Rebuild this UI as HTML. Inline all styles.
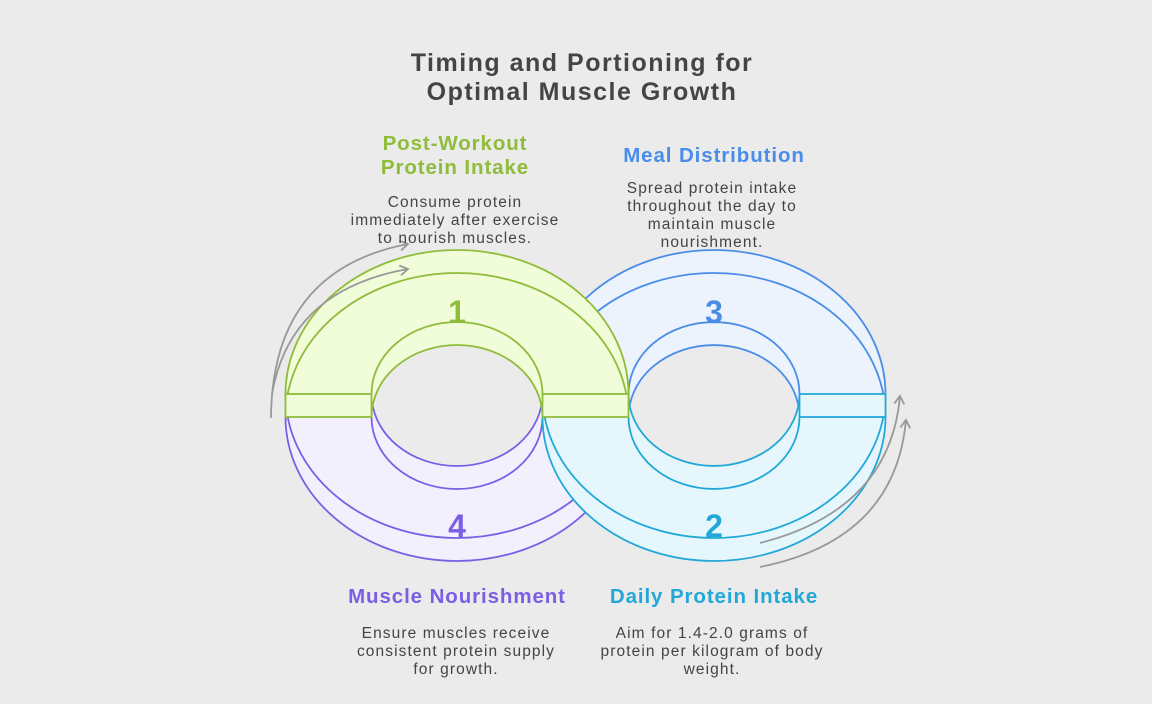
<!DOCTYPE html>
<html><head><meta charset="utf-8"><style>
html,body{margin:0;padding:0;background:#ebebeb;}
svg{display:block;font-family:"Liberation Sans",sans-serif;}
.t{font-weight:bold;font-size:25px;fill:#444;letter-spacing:1.5px;}
.d{font-size:15.5px;fill:#444;letter-spacing:1.1px;}
.h{font-weight:bold;font-size:20.5px;letter-spacing:0.9px;}
.n{font-weight:bold;font-size:32px;}
</style></head><body>
<svg width="1152" height="704" viewBox="0 0 1152 704">
<rect width="1152" height="704" fill="#ebebeb"/>
<defs>
<marker id="ah" markerWidth="12" markerHeight="12" refX="9" refY="6" orient="auto" markerUnits="userSpaceOnUse">
<path d="M1,1 L9,6 L1,11" fill="none" stroke="#999" stroke-width="1.8"/>
</marker>
</defs>

<g fill="#ecf3fd" stroke="#4a8de8" stroke-width="1.8">
<path d="M542.5,417 A171.5,144 0 0 1 885.5,417 L799.5,417 A85.5,72 0 0 0 628.5,417 Z" stroke="none"/>
<path d="M542.5,394 A171.5,144 0 0 1 885.5,394 L799.5,394 A85.5,72 0 0 0 628.5,394 Z" stroke="none"/>
<path d="M542.5,417 A171.5,144 0 0 1 885.5,417" fill="none"/>
<path d="M542.5,394 A171.5,144 0 0 1 885.5,394" fill="none"/>
<path d="M628.5,417 A85.5,72 0 0 1 799.5,417" fill="none"/>
<path d="M628.5,394 A85.5,72 0 0 1 799.5,394" fill="none"/>
</g>
<g fill="#f3f0fd" stroke="#7b5ee6" stroke-width="1.8">
<path d="M285.5,394 A171.5,144 0 0 0 628.5,394 L628.5,417 A171.5,144 0 0 1 285.5,417 Z" stroke="none"/>
<path d="M285.5,394 A171.5,144 0 0 0 628.5,394 L542.5,394 A85.5,72 0 0 1 371.5,394 Z" stroke="none"/>
<path d="M285.5,417 A171.5,144 0 0 0 628.5,417 L542.5,417 A85.5,72 0 0 1 371.5,417 Z" stroke="none"/>
<path d="M285.5,394 A171.5,144 0 0 0 628.5,394" fill="none"/>
<path d="M285.5,417 A171.5,144 0 0 0 628.5,417" fill="none"/>
<path d="M371.5,394 A85.5,72 0 0 0 542.5,394" fill="none"/>
<path d="M371.5,417 A85.5,72 0 0 0 542.5,417" fill="none"/>
</g>
<g fill="#e5f7fd" stroke="#22a8d8" stroke-width="1.8">
<path d="M542.5,394 A171.5,144 0 0 0 885.5,394 L885.5,417 A171.5,144 0 0 1 542.5,417 Z" stroke="none"/>
<path d="M542.5,394 A171.5,144 0 0 0 885.5,394 L799.5,394 A85.5,72 0 0 1 628.5,394 Z" stroke="none"/>
<path d="M542.5,417 A171.5,144 0 0 0 885.5,417 L799.5,417 A85.5,72 0 0 1 628.5,417 Z" stroke="none"/>
<path d="M542.5,394 A171.5,144 0 0 0 885.5,394" fill="none"/>
<path d="M542.5,417 A171.5,144 0 0 0 885.5,417" fill="none"/>
<path d="M628.5,394 A85.5,72 0 0 0 799.5,394" fill="none"/>
<path d="M628.5,417 A85.5,72 0 0 0 799.5,417" fill="none"/>
<rect x="799.5" y="394" width="86" height="23" />
</g>
<g fill="#f1fcd9" stroke="#8fbc3a" stroke-width="1.8">
<path d="M285.5,417 A171.5,144 0 0 1 628.5,417 L542.5,417 A85.5,72 0 0 0 371.5,417 Z" stroke="none"/>
<path d="M285.5,394 A171.5,144 0 0 1 628.5,394 L542.5,394 A85.5,72 0 0 0 371.5,394 Z" stroke="none"/>
<path d="M285.5,417 A171.5,144 0 0 1 628.5,417" fill="none"/>
<path d="M285.5,394 A171.5,144 0 0 1 628.5,394" fill="none"/>
<path d="M371.5,417 A85.5,72 0 0 1 542.5,417" fill="none"/>
<path d="M371.5,394 A85.5,72 0 0 1 542.5,394" fill="none"/>
<rect x="285.5" y="394" width="86" height="23"/>
<rect x="542.5" y="394" width="86" height="23"/>
</g>

<g fill="none" stroke="#999" stroke-width="1.8">
<path d="M271,418 Q272,270 408,244" marker-end="url(#ah)"/>
<path d="M272,394 Q290,290 408,269" marker-end="url(#ah)"/>
<path d="M760,543 Q890,510 900,396" marker-end="url(#ah)"/>
<path d="M760,567 Q895,540 906,420" marker-end="url(#ah)"/>
</g>

<text class="n" x="457" y="323" text-anchor="middle" fill="#8fbc3a">1</text>
<text class="n" x="714" y="323" text-anchor="middle" fill="#4a8de8">3</text>
<text class="n" x="457" y="537" text-anchor="middle" fill="#7b5ee6">4</text>
<text class="n" x="714" y="537" text-anchor="middle" fill="#22a8d8">2</text>

<text class="t" x="582" y="71" text-anchor="middle">Timing and Portioning for</text>
<text class="t" x="582" y="100" text-anchor="middle">Optimal Muscle Growth</text>

<text class="h" x="455" y="150" text-anchor="middle" fill="#8fbc3a">Post-Workout</text>
<text class="h" x="455" y="174" text-anchor="middle" fill="#8fbc3a">Protein Intake</text>
<text class="d" x="455" y="207" text-anchor="middle">Consume protein</text>
<text class="d" x="455" y="225" text-anchor="middle">immediately after exercise</text>
<text class="d" x="455" y="243" text-anchor="middle">to nourish muscles.</text>

<text class="h" x="714" y="162" text-anchor="middle" fill="#4a8de8">Meal Distribution</text>
<text class="d" x="712" y="193" text-anchor="middle">Spread protein intake</text>
<text class="d" x="712" y="211" text-anchor="middle">throughout the day to</text>
<text class="d" x="712" y="229" text-anchor="middle">maintain muscle</text>
<text class="d" x="712" y="247" text-anchor="middle">nourishment.</text>

<text class="h" x="457" y="603" text-anchor="middle" fill="#7b5ee6">Muscle Nourishment</text>
<text class="d" x="456" y="638" text-anchor="middle">Ensure muscles receive</text>
<text class="d" x="456" y="656" text-anchor="middle">consistent protein supply</text>
<text class="d" x="456" y="674" text-anchor="middle">for growth.</text>

<text class="h" x="714" y="603" text-anchor="middle" fill="#22a8d8">Daily Protein Intake</text>
<text class="d" x="712" y="638" text-anchor="middle">Aim for 1.4-2.0 grams of</text>
<text class="d" x="712" y="656" text-anchor="middle">protein per kilogram of body</text>
<text class="d" x="712" y="674" text-anchor="middle">weight.</text>
</svg>
</body></html>
